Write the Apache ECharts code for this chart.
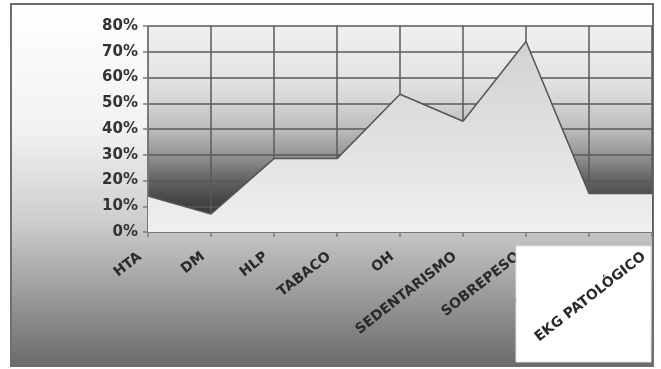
<!DOCTYPE html>
<html>
<head>
<meta charset="utf-8">
<script src="https://cdn.jsdelivr.net/npm/echarts@6/dist/echarts.min.js"></script>
<style>
html,body{margin:0;padding:0;background:#fff;}
#c{width:661px;height:369px;}
</style>
</head>
<body>
<div id="c"></div>
<script>
var categories = ['HTA','DM','HLP','TABACO','OH','SEDENTARISMO','SOBREPESO','OBESIDAD','EKG PATOLÓGICO'];
var values = [14, 7, 28.5, 28.5, 53.5, 43, 74, 15, 15];
var yTicks = {min: 0, max: 80, interval: 10};
var boxedLabel = 'EKG PATOLÓGICO';

var chart = echarts.init(document.getElementById('c'), null, {renderer: 'canvas'});
var font = '"DejaVu Sans", "Liberation Sans", Arial, sans-serif';
var xLabelBase = {
  rotate: 38, margin: 17, interval: 0, padding: [0, 10, 0, 0],
  fontFamily: font, fontWeight: 'bold', fontSize: 14, color: '#2a2a2a'
};
chart.setOption({
  animation: false,
  backgroundColor: '#ffffff',
  graphic: [
    {
      type: 'rect', z: -10, silent: true,
      shape: {x: 11, y: 4, width: 642, height: 362},
      style: {
        fill: new echarts.graphic.LinearGradient(0, 0, 0, 1, [
          {offset: 0, color: '#ffffff'},
          {offset: 0.35, color: '#f2f2f2'},
          {offset: 0.6, color: '#cdcdcd'},
          {offset: 1, color: '#6a6a6a'}
        ]),
        stroke: '#6e6e6e', lineWidth: 2
      }
    },
    {
      type: 'rect', z: 5, silent: true,
      shape: {x: 516, y: 246, width: 135, height: 116},
      style: {fill: '#ffffff', stroke: '#e4e4e4', lineWidth: 1}
    }
  ],
  grid: {
    left: 148, right: 9, top: 26, bottom: 137,
    show: true, borderWidth: 0,
    backgroundColor: new echarts.graphic.LinearGradient(0, 0, 0, 1, [
      {offset: 0, color: '#f0f0f0'},
      {offset: 0.25, color: '#e4e4e4'},
      {offset: 0.375, color: '#d4d4d4'},
      {offset: 0.5, color: '#bcbcbc'},
      {offset: 0.625, color: '#959595'},
      {offset: 0.75, color: '#626262'},
      {offset: 0.875, color: '#3e3e3e'},
      {offset: 1, color: '#2e2e2e'}
    ])
  },
  xAxis: [
    {
      type: 'category',
      data: categories,
      boundaryGap: false,
      z: 0,
      axisLine: {show: true, lineStyle: {color: '#7a7a7a', width: 1.5}},
      axisTick: {show: true, length: 5, lineStyle: {color: '#7a7a7a', width: 1.5}},
      splitLine: {show: true, lineStyle: {color: '#5a5a5a', width: 1.5}},
      axisLabel: Object.assign({}, xLabelBase, {
        formatter: function (v) { return v === boxedLabel ? '' : v; }
      })
    },
    {
      type: 'category',
      data: categories,
      boundaryGap: false,
      position: 'bottom',
      z: 10,
      axisLine: {show: false},
      axisTick: {show: false},
      splitLine: {show: false},
      axisLabel: Object.assign({}, xLabelBase, {
        formatter: function (v) { return v === boxedLabel ? v : ''; }
      })
    }
  ],
  yAxis: {
    type: 'value',
    min: yTicks.min, max: yTicks.max, interval: yTicks.interval,
    axisLine: {show: true, lineStyle: {color: '#7a7a7a', width: 1.5}},
    axisTick: {show: true, length: 5, lineStyle: {color: '#7a7a7a', width: 1.5}},
    splitLine: {show: true, lineStyle: {color: '#5a5a5a', width: 1.5}},
    axisLabel: {
      formatter: '{value}%', margin: 10,
      fontFamily: font, fontWeight: 'bold', fontSize: 15, color: '#333333'
    }
  },
  series: [{
    type: 'line',
    data: values,
    xAxisIndex: 0,
    symbol: 'none',
    lineStyle: {color: '#555555', width: 1.5},
    areaStyle: {
      opacity: 1,
      color: new echarts.graphic.LinearGradient(0, 0, 0, 1, [
        {offset: 0, color: '#d2d2d2'},
        {offset: 1, color: '#efefef'}
      ])
    }
  }]
});
</script>
</body>
</html>
